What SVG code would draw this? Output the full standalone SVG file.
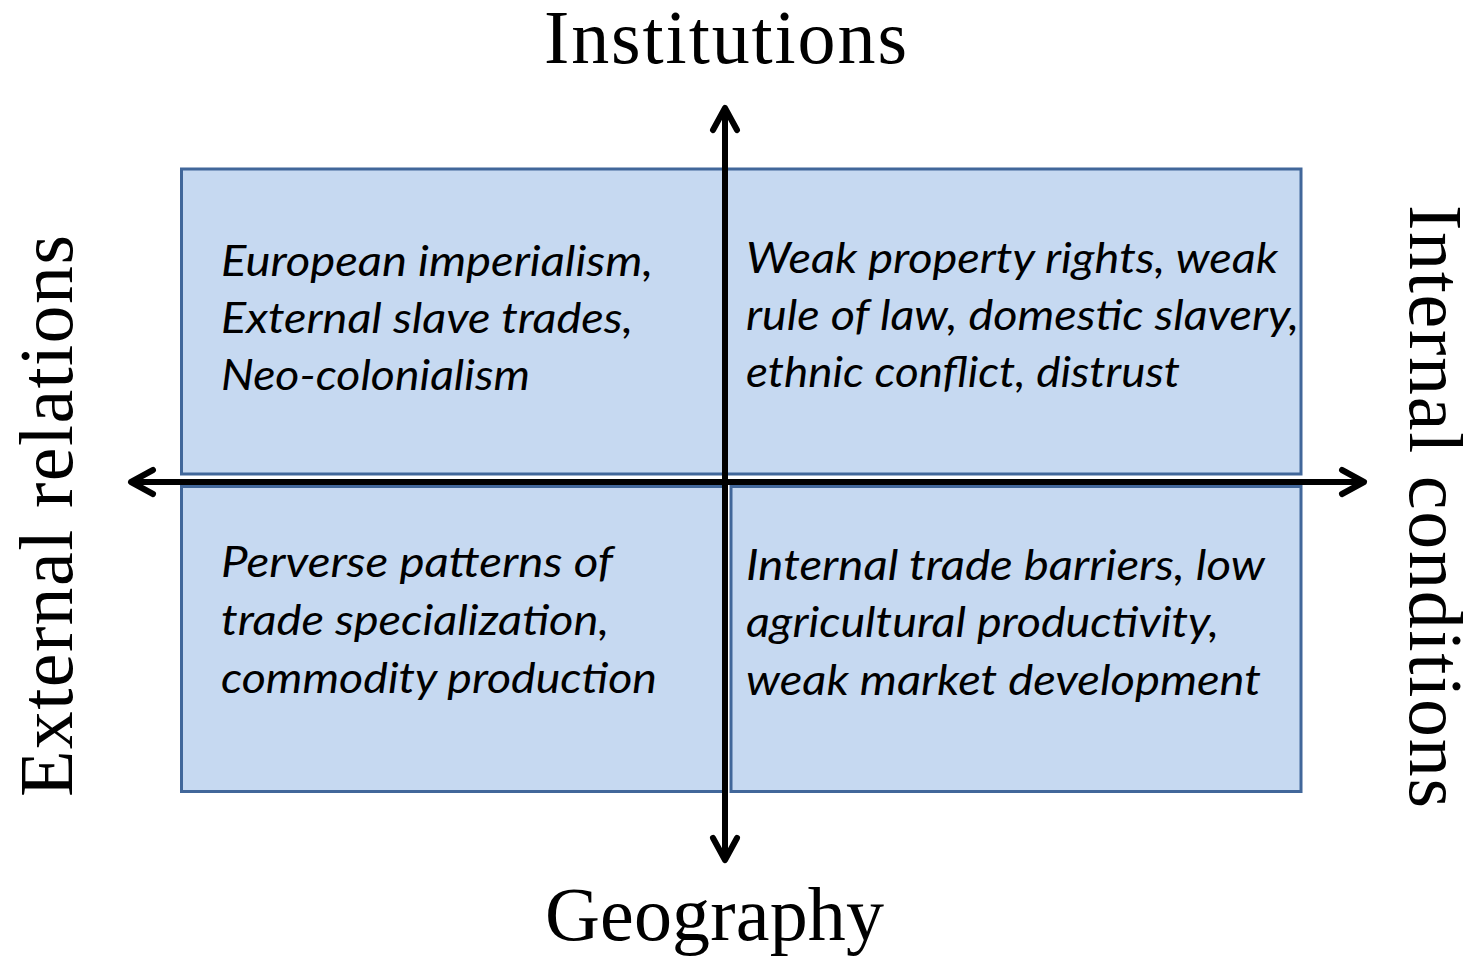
<svg xmlns="http://www.w3.org/2000/svg" width="1468" height="963" viewBox="0 0 1468 963">
  <style>
    .cell { fill: #c6d9f1; stroke: #41679a; stroke-width: 3; }
    .body { font-family: Lato, "Open Sans", "Liberation Sans", sans-serif; font-style: italic; font-size: 43px; fill: #000; }
    .title { font-family: "Liberation Serif", "DejaVu Serif", serif; font-size: 76px; fill: #000; }
    .axis { stroke: #000; stroke-width: 6; fill: none; }
  </style>
  <defs>
    <marker id="chevron" markerUnits="userSpaceOnUse" markerWidth="40" markerHeight="40" refX="0" refY="0" orient="auto-start-reverse" overflow="visible">
      <path d="M -22 -12 L 0 0 L -22 12" fill="none" stroke="#000" stroke-width="6" stroke-linecap="round" stroke-linejoin="round"/>
    </marker>
  </defs>

  <rect width="1468" height="963" fill="#ffffff"/>

  <!-- quadrant: top left -->
  <g id="external-institutions">
    <rect class="cell" x="181.5" y="169" width="544" height="305"/>
    <text class="body" x="221" y="276" textLength="432" lengthAdjust="spacingAndGlyphs">European imperialism,</text>
    <text class="body" x="221" y="333" textLength="412" lengthAdjust="spacingAndGlyphs">External slave trades,</text>
    <text class="body" x="221" y="390" textLength="309" lengthAdjust="spacingAndGlyphs">Neo-colonialism</text>
  </g>

  <!-- quadrant: top right -->
  <g id="internal-institutions">
    <rect class="cell" x="726" y="169" width="575" height="305"/>
    <text class="body" x="746" y="273" textLength="532" lengthAdjust="spacingAndGlyphs">Weak property rights, weak</text>
    <text class="body" x="746" y="330" textLength="553" lengthAdjust="spacingAndGlyphs">rule of law, domestic slavery,</text>
    <text class="body" x="746" y="387" textLength="434" lengthAdjust="spacingAndGlyphs">ethnic conflict, distrust</text>
  </g>

  <!-- quadrant: bottom left -->
  <g id="external-geography">
    <rect class="cell" x="181.5" y="486.5" width="544" height="305"/>
    <text class="body" x="221" y="577" textLength="392" lengthAdjust="spacingAndGlyphs">Perverse patterns of</text>
    <text class="body" x="221" y="635" textLength="388" lengthAdjust="spacingAndGlyphs">trade specialization,</text>
    <text class="body" x="221" y="693" textLength="436" lengthAdjust="spacingAndGlyphs">commodity production</text>
  </g>

  <!-- quadrant: bottom right -->
  <g id="internal-geography">
    <rect class="cell" x="731" y="486.5" width="570" height="305"/>
    <text class="body" x="746" y="580" textLength="519" lengthAdjust="spacingAndGlyphs">Internal trade barriers, low</text>
    <text class="body" x="746" y="637" textLength="473" lengthAdjust="spacingAndGlyphs">agricultural productivity,</text>
    <text class="body" x="746" y="695" textLength="515" lengthAdjust="spacingAndGlyphs">weak market development</text>
  </g>

  <!-- axes -->
  <g id="connectors">
    <line class="axis" x1="131" y1="482" x2="1364" y2="482" marker-start="url(#chevron)" marker-end="url(#chevron)"/>
    <line class="axis" x1="725" y1="108" x2="725" y2="860" marker-start="url(#chevron)" marker-end="url(#chevron)"/>
  </g>

  <!-- axis labels -->
  <g id="label-institutions">
    <text class="title" x="544" y="63" textLength="363">Institutions</text>
  </g>
  <g id="label-geography">
    <text class="title" x="545" y="940" textLength="339">Geography</text>
  </g>
  <g id="label-external">
    <text class="title" transform="translate(72 797) rotate(-90)" x="0" y="0" textLength="562">External relations</text>
  </g>
  <g id="label-internal">
    <text class="title" transform="translate(1410 205) rotate(90)" x="0" y="0" textLength="603">Internal conditions</text>
  </g>
</svg>
